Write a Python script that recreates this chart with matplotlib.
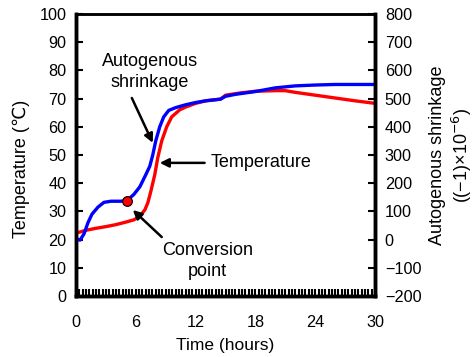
import numpy as np
import matplotlib
matplotlib.use('Agg')
import matplotlib.pyplot as plt
from matplotlib.ticker import MultipleLocator

plt.rcParams['font.family'] = ['Liberation Sans', 'DejaVu Sans']

# temperature (left axis)
t_temp = [0, 1, 2, 3, 4, 5, 5.8, 6.4, 6.9, 7.2, 7.5, 7.9, 8.2, 8.6, 9.1, 9.6,
          10.4, 11, 12, 13, 14.5, 15, 16.5, 18, 20, 21, 22, 24, 26, 28, 30]
temp = [22.3, 23.3, 24, 24.6, 25.3, 26.2, 27, 28.3, 30.5, 33, 37, 43, 49, 55, 60, 63.5,
        66, 67, 68.3, 69.2, 69.8, 71.2, 72, 72.6, 72.8, 72.8, 72.2, 71.2, 70.2, 69.2, 68.3]

# autogenous shrinkage (right axis, x1e-6)
t_shr = [0, 0.4, 0.8, 1.2, 1.6, 2.2, 2.8, 3.5, 4.5, 5.1, 5.8, 6.4, 7.0, 7.4, 7.7, 8.0,
         8.4, 8.8, 9.3, 10, 11, 12, 13, 14.5, 15, 16, 18, 20, 22, 24, 26, 28, 30]
shrink = [3, -2, 20, 60, 90, 115, 132, 136, 136, 138, 160, 187, 230, 260, 300, 350,
          400, 435, 458, 468, 478, 486, 492, 498, 508, 515, 525, 538, 545, 548, 550, 550, 550]

conv_t, conv_s = 5.1, 138

fs_tick = 11.7
fs_text = 13

fig = plt.figure(figsize=(4.73, 3.57), dpi=100)
ax = fig.add_axes([0.1607, 0.1709, 0.6322, 0.7900])
ax2 = ax.twinx()

ax.plot(t_temp, temp, color='#ff0000', lw=2.4)
ax2.plot(t_shr, shrink, color='#0000ff', lw=2.4)
ax2.plot(conv_t, conv_s, 'o', ms=7, mfc='#ff0000', mec='black', mew=0.8)

ax.set_xlim(0, 30)
ax.set_ylim(0, 100)
ax2.set_ylim(-200, 800)

ax.xaxis.set_major_locator(MultipleLocator(6))
ax.xaxis.set_minor_locator(MultipleLocator(1/3))
ax.yaxis.set_major_locator(MultipleLocator(10))
ax2.yaxis.set_major_locator(MultipleLocator(100))

ax.tick_params(axis='x', which='both', direction='in', length=5, width=1.5,
               top=False, labelsize=fs_tick, pad=14)
ax.tick_params(axis='y', direction='in', length=5, width=1.5, right=False,
               labelsize=fs_tick, pad=7)
ax2.tick_params(axis='y', direction='in', length=5, width=1.5, labelsize=fs_tick, pad=7)
ax2.yaxis.set_major_formatter(plt.FuncFormatter(lambda v, p: f'{v:.0f}'.replace('-', '\u2212')))

for a in (ax, ax2):
    a.spines['left'].set_linewidth(2.5)
    a.spines['right'].set_linewidth(2.5)
    a.spines['bottom'].set_linewidth(2.5)
    a.spines['top'].set_linewidth(1.8)

ax.set_xlabel('Time (hours)', fontsize=12.5)
ax.xaxis.set_label_coords(0.5, -0.15)
ax.set_ylabel('Temperature (\u2103)', fontsize=fs_text)
ax.yaxis.set_label_coords(-0.154, 0.45)
ax2.set_ylabel('Autogenous shrinkage\n((\u22121)\u00d710$^{-6}$)', fontsize=fs_text,
               linespacing=1.2)
ax2.yaxis.set_label_coords(1.18, 0.5)

arrow = dict(arrowstyle='-|>', color='black', lw=1.8, shrinkA=0, shrinkB=0,
             mutation_scale=13)

ax.text(7.4, 79.4, 'Autogenous\nshrinkage', ha='center', va='center',
        fontsize=fs_text, linespacing=1.35)
ax.annotate('', xy=(7.7, 54.3), xytext=(5.6, 70.2), arrowprops=arrow)

ax.text(13.5, 47.2, 'Temperature', ha='left', va='center', fontsize=fs_text)
ax.annotate('', xy=(8.4, 47.2), xytext=(12.9, 47.2), arrowprops=arrow)

ax.text(13.2, 12.4, 'Conversion\npoint', ha='center', va='center',
        fontsize=fs_text, linespacing=1.35)
ax.annotate('', xy=(5.7, 30.5), xytext=(8.6, 20.9), arrowprops=arrow)

fig.savefig('out.png', dpi=100)
